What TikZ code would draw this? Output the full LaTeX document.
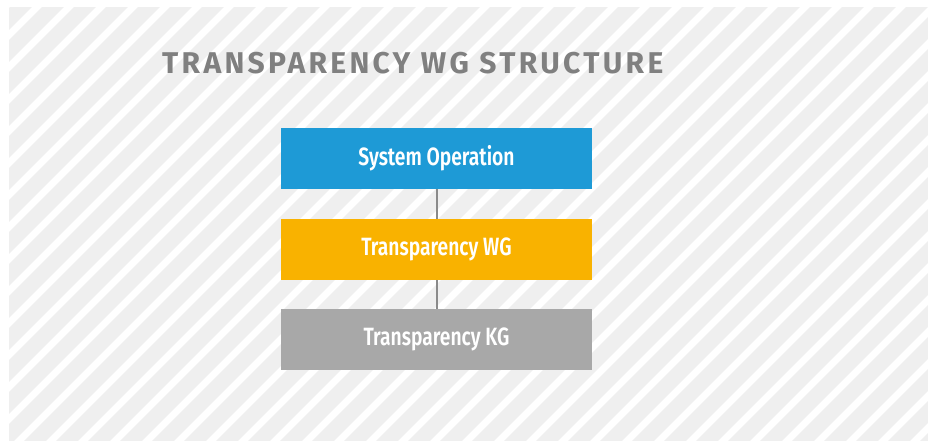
\documentclass[tikz,border=0pt]{standalone}
\usepackage{fontspec}
\usepackage{tikz}
\usetikzlibrary{calc,positioning}
\newfontfamily\titlefont[LetterSpace=11]{Fira Sans Bold}
\newfontfamily\boxfont[FakeStretch=0.77]{Fira Sans SemiBold}
\definecolor{panelgray}{HTML}{EFEFEF}
\definecolor{opblue}{HTML}{1E9AD6}
\definecolor{wgorange}{HTML}{F9B200}
\definecolor{kggray}{HTML}{A8A8A8}
\definecolor{titlegray}{HTML}{808080}
\definecolor{linkgray}{HTML}{8A8A8A}

\begin{document}
\begin{tikzpicture}[x=1pt, y=-1pt,
	level/.style = {minimum width=311pt, minimum height=61pt, inner sep=0pt,
		text=white, font=\boxfont\fontsize{25}{25}\selectfont},
	link/.style = {draw=linkgray, line width=2pt}]
	\useasboundingbox (0,0) rectangle (928,441);
	% striped panel
	\fill[panelgray] (9,7) rectangle (928,441);
	\begin{scope}
		\clip (9,7) rectangle (928,441);
		\foreach \c in {-20,12,...,1400}
			\draw[white, line width=7pt] (\c-500,500) -- (\c+500,-500);
	\end{scope}
	\node[anchor=west, text=titlegray, inner sep=0pt] (title) at (162,63)
		{\titlefont\fontsize{30}{30}\selectfont TRANSPARENCY WG STRUCTURE};
	\node[level, fill=opblue] (OP) at (436.5,158.5) {System Operation};
	\node[level, fill=wgorange] (WG) at (436.5,249.5) {Transparency WG};
	\node[level, fill=kggray] (KG) at (436.5,339.5) {Transparency KG};
	\path[link]
		(OP.south) edge (WG.north)
		(WG.south) edge (KG.north);
\end{tikzpicture}
\end{document}
